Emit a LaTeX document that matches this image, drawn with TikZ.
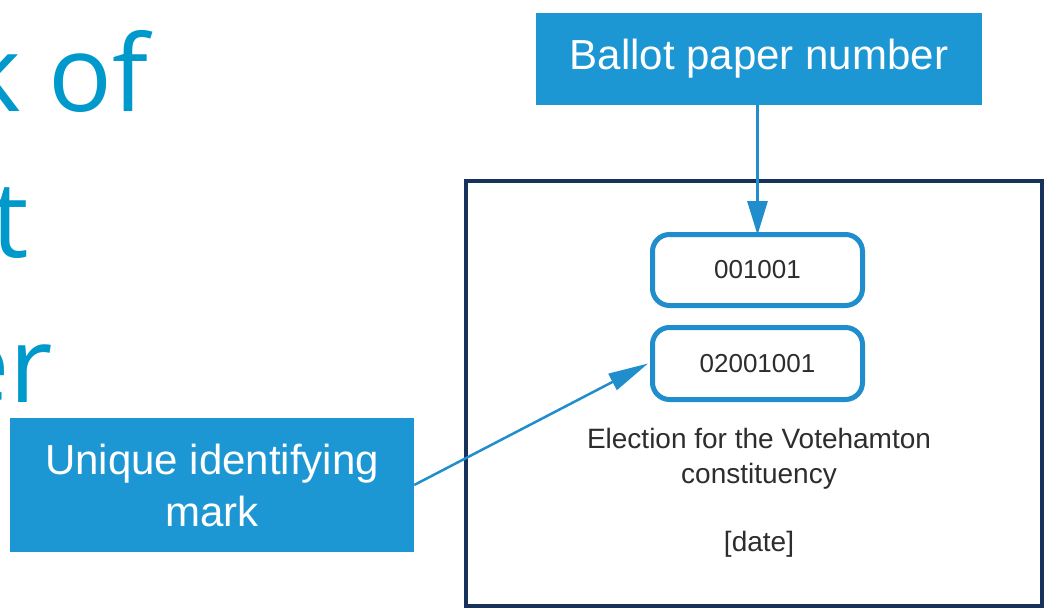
\documentclass[tikz,border=0pt]{standalone}
\usepackage{fontspec}
\setmainfont{Liberation Sans}
\newfontfamily\titlefont{Open Sans}
\usetikzlibrary{arrows.meta}
\definecolor{titleblue}{RGB}{0,153,204}
\definecolor{boxblue}{RGB}{29,151,211}
\definecolor{framenavy}{RGB}{22,50,92}
\definecolor{ringblue}{RGB}{32,142,204}
\definecolor{darktext}{RGB}{45,45,45}
\tikzset{
  titletext/.style={anchor=base east, inner sep=0pt, text=titleblue, font=\titlefont\fontsize{106}{146}\selectfont},
  callout/.style={fill=boxblue, draw=none, text=white, align=center, inner sep=0pt, font=\fontsize{42}{52}\selectfont},
  numbox/.style={draw=ringblue, line width=5pt, rounded corners=17pt, fill=white, text=darktext, inner sep=0pt, font=\fontsize{26}{32}\selectfont},
  papertext/.style={text=darktext, align=center, inner sep=0pt, font=\fontsize{28}{35}\selectfont},
  pointer/.style={draw=ringblue, line width=3pt},
}
\begin{document}
\begin{tikzpicture}[x=1pt,y=-1pt]
\useasboundingbox[fill=white] (0,0) rectangle (1046,610);
% title fragments
\node[titletext] (t1) at (149,111) {k of};
\node[titletext] (t2) at (29,257) {t};
\node[titletext] (t3) at (53,402) {er};
% ballot paper frame
\node[draw=framenavy, line width=4pt, minimum width=576pt, minimum height=425pt, inner sep=0pt] (paper) at (754,393.5) {};
% number boxes
\node[numbox, minimum width=210pt, minimum height=71pt] (n1) at (757.5,270) {001001};
\node[numbox, minimum width=210pt, minimum height=72pt] (n2) at (757.5,363.5) {02001001};
% paper texts
\node[papertext, anchor=base] (elec) at (759,483) {Election for the Votehamton\\constituency};
\node[papertext, anchor=base] (date) at (759,551) {[date]};
% callouts
\node[callout, minimum width=446pt, minimum height=92pt] (bpn) at (759,59) {Ballot paper number};
\node[callout, minimum width=404pt, minimum height=134pt] (uim) at (212,485) {Unique identifying\\mark};
% connectors
\draw[pointer, -{Triangle[length=34pt,width=20pt]}] (bpn.south -| n1.north) -- ([yshift=-3pt]n1.north);
\draw[pointer, line width=2.5pt, -{Triangle[length=40pt,width=18pt]}] (uim.east) -- ([xshift=-2pt]n2.west);
\end{tikzpicture}
\end{document}
